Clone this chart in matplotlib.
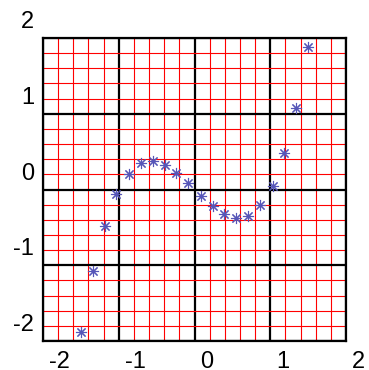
import matplotlib
matplotlib.use("Agg")
import matplotlib.pyplot as plt
from matplotlib.transforms import ScaledTranslation
from matplotlib.ticker import MultipleLocator

x_vals = [-1.50, -1.34, -1.18, -1.03, -0.87, -0.71, -0.55, -0.39, -0.24, -0.08,
          0.08, 0.24, 0.39, 0.55, 0.71, 0.87, 1.03, 1.18, 1.34, 1.50]
y_vals = [-1.875, -1.08, -0.48, -0.06, 0.21, 0.35, 0.38, 0.33, 0.22, 0.08,
          -0.08, -0.22, -0.33, -0.38, -0.35, -0.21, 0.05, 0.48, 1.08, 1.875]
x_ticks = [-2, -1, 0, 1, 2]
y_ticks = [-2, -1, 0, 1, 2]
x_labels = ["-2", "-1", "0", "1", "2"]
y_labels = ["-2", "-1", "0", "1", "2"]

plt.rcParams['font.family'] = ['Liberation Sans', 'DejaVu Sans']

fig = plt.figure(figsize=(3.69, 3.70), dpi=100)
ax = fig.add_axes([43/369, 29/370, 303/369, 303/370])
ax.set_xlim(-2, 2)
ax.set_ylim(-2, 2)

ax.xaxis.set_major_locator(MultipleLocator(1))
ax.yaxis.set_major_locator(MultipleLocator(1))
ax.xaxis.set_minor_locator(MultipleLocator(0.2))
ax.yaxis.set_minor_locator(MultipleLocator(0.2))
ax.grid(which='minor', color='#ff0000', linewidth=0.8)
ax.grid(which='major', color='black', linewidth=1.6)
ax.set_axisbelow(True)
ax.tick_params(which='both', length=0, labelbottom=False, labelleft=False)
for s in ax.spines.values():
    s.set_linewidth(1.6)
    s.set_color('black')

ax.plot(x_vals, y_vals, linestyle='none', marker=(8, 2, 0), markersize=8,
        markeredgewidth=0.8, color='#5656b8', zorder=5, clip_on=False)

# offset tick labels (as in the reference)
xoff = ScaledTranslation(6/100, -10/100, fig.dpi_scale_trans)
for xv, lab in zip(x_ticks, x_labels):
    ax.text(xv, 0, lab, transform=ax.get_xaxis_transform() + xoff,
            ha='left', va='top', fontsize=17, color='black')
yoff = ScaledTranslation(-9/100, 16/100, fig.dpi_scale_trans)
for yv, lab in zip(y_ticks, y_labels):
    ax.text(0, yv, lab, transform=ax.get_yaxis_transform() + yoff,
            ha='right', va='center', fontsize=17, color='black')

fig.savefig("out.png", dpi=100)
